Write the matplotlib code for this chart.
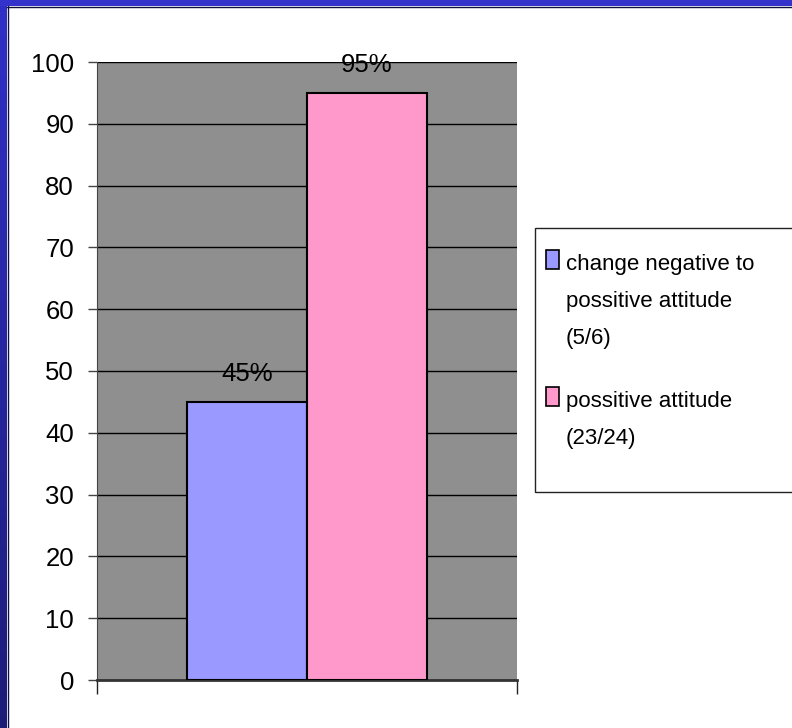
import matplotlib
matplotlib.use('Agg')
import matplotlib.pyplot as plt
import numpy as np
from matplotlib.patches import Rectangle
from matplotlib.colors import LinearSegmentedColormap

# bar values (percent) and legend text
series = ['change negative to\npossitive attitude\n(5/6)', 'possitive attitude\n(23/24)']
values = [45, 95]
value_labels = ['45%', '95%']
colors = ['#9999FF', '#FF99CC']
yticks = list(range(0, 101, 10))

plt.rcParams['font.family'] = ['Liberation Sans', 'DejaVu Sans']

W, H = 792, 728
fig = plt.figure(figsize=(W / 100, H / 100), dpi=100)
fig.patch.set_facecolor('white')

# slide frame: blue strip on top, shaded strip on the left
bg = fig.add_axes([0, 0, 1, 1], zorder=-5)
bg.set_xlim(0, W)
bg.set_ylim(0, H)
bg.axis('off')
grad = np.linspace(0, 1, 256).reshape(-1, 1)
cmap = LinearSegmentedColormap.from_list('frame', ['#1c1c78', '#3030c8'])
bg.imshow(grad, extent=(0, 7, 0, H), aspect='auto', cmap=cmap, origin='lower')
bg.add_patch(Rectangle((0, H - 6), W, 6, color='#3333CC', lw=0))
bg.plot([7.5, 7.5], [0, H - 6], color='#101040', lw=1)
bg.plot([7, W], [H - 6.5, H - 6.5], color='#101040', lw=1)

ax = fig.add_axes([97 / W, 1 - 680 / H, 420 / W, 618 / H])
ax.set_facecolor('#8F8F8F')
width = 0.2857
offsets = [-width / 2, width / 2]
for off, v, c, lab in zip(offsets, values, colors, value_labels):
    ax.bar(off, v, width=width, color=c, edgecolor='black', linewidth=1.5, zorder=3)
    ax.annotate(lab, xy=(off, v), xytext=(0, 15), textcoords='offset points',
                ha='center', va='baseline', fontsize=18.5)

ax.set_xlim(-0.5, 0.5)
ax.set_ylim(0, 100)
ax.set_yticks(yticks)
ax.set_yticklabels([str(t) for t in yticks], fontsize=18.5)
ax.yaxis.grid(True, color='black', linewidth=1)
ax.set_axisbelow(True)
ax.set_xticks([-0.5, 0.5])
ax.set_xticklabels(['', ''])
ax.tick_params(axis='y', length=6.5, width=1, color='#444444', pad=10)
ax.tick_params(axis='x', length=10, width=1, color='#222222')
for s in ['top', 'right']:
    ax.spines[s].set_visible(False)
ax.spines['left'].set_color('#444444')
ax.spines['bottom'].set_color('#333333')
ax.spines['bottom'].set_linewidth(2)

# legend box, partly running off the right edge
leg = fig.add_axes([0, 0, 1, 1], zorder=5)
leg.set_xlim(0, W)
leg.set_ylim(H, 0)
leg.axis('off')
leg.add_patch(Rectangle((535, 228), 300, 264, facecolor='white', edgecolor='#222222', lw=1))
baselines = [269, 406]
for base, c, name in zip(baselines, colors, series):
    leg.add_patch(Rectangle((546, base - 19), 13, 19, facecolor=c, edgecolor='black', lw=1.2))
    leg.text(566, base - 15, name, fontsize=16, va='top', ha='left', linespacing=2.0)

fig.savefig('out.png', dpi=100)
